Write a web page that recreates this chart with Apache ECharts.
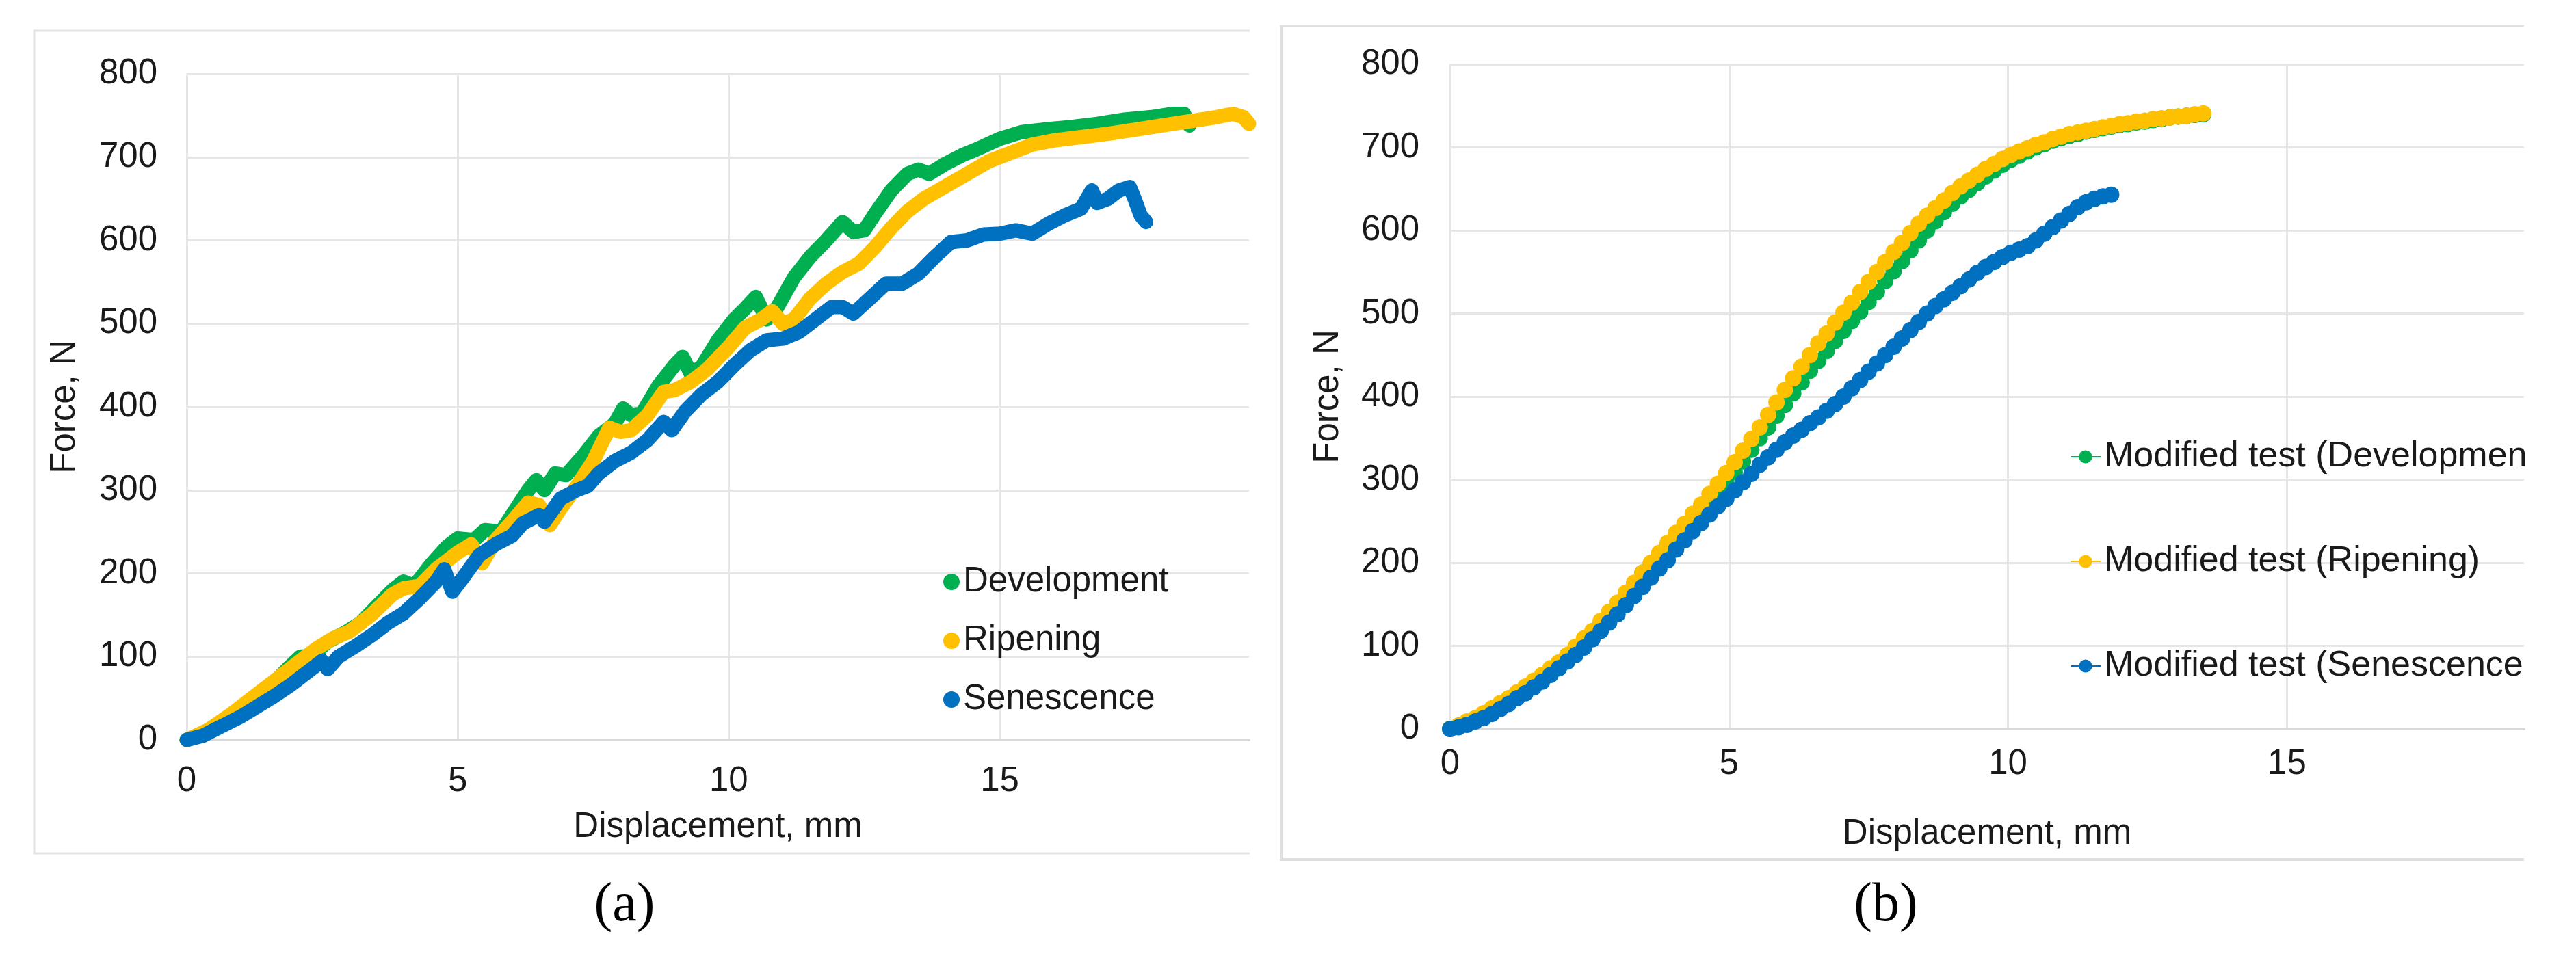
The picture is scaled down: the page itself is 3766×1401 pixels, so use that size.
<!DOCTYPE html>
<html>
<head>
<meta charset="utf-8">
<script src="https://cdn.jsdelivr.net/npm/echarts@6/dist/echarts.min.js"></script>
<style>html,body{margin:0;padding:0;background:#fff}#c{width:3766px;height:1401px}</style>
</head>
<body>
<div id="c"></div>
<script>
// ---------- Panel (a): displacement (mm) / force (N) ----------
const devA_x = [0,0.3,0.6,1.0,1.3,1.6,1.9,2.1,2.3,2.6,2.9,3.2,3.5,3.8,4.0,4.2,4.5,4.8,5.0,5.3,5.5,5.8,6.0,6.3,6.45,6.6,6.8,7.0,7.3,7.6,7.9,8.05,8.2,8.4,8.7,9.0,9.15,9.3,9.5,9.8,10.1,10.3,10.5,10.7,10.9,11.2,11.5,11.8,12.1,12.3,12.5,12.7,13.0,13.3,13.5,13.7,14.0,14.3,14.6,15.0,15.4,15.8,16.3,16.8,17.3,17.8,18.2,18.4,18.5];
const devA_y = [0,8,20,38,52,68,88,100,100,118,128,140,160,180,190,185,210,232,242,240,252,250,270,300,312,300,320,318,340,365,380,398,390,392,425,450,460,440,448,480,505,518,532,505,520,555,580,600,622,610,612,632,660,680,685,680,692,702,710,722,730,733,736,740,745,748,752,752,738];

const ripA_x = [0,0.4,0.8,1.2,1.6,2.0,2.4,2.7,3.0,3.4,3.8,4.0,4.3,4.6,5.0,5.25,5.45,5.7,6.0,6.3,6.5,6.7,6.9,7.2,7.5,7.8,8.0,8.2,8.5,8.8,9.0,9.3,9.6,10.0,10.3,10.6,10.8,11.0,11.2,11.5,11.8,12.1,12.4,12.7,13.0,13.3,13.6,14.0,14.4,14.8,15.2,15.6,16.0,16.5,17.0,17.5,18.0,18.5,19.0,19.3,19.5,19.6];
const ripA_y = [0,12,30,50,70,90,110,122,130,150,175,182,185,205,225,235,212,240,262,285,282,258,278,305,335,375,370,372,390,418,420,430,445,472,495,505,515,500,505,530,548,562,572,592,615,635,650,665,680,695,705,715,720,724,728,733,738,743,748,752,748,740];

const senA_x = [0,0.3,0.6,1.0,1.3,1.6,1.9,2.2,2.5,2.6,2.8,3.1,3.4,3.7,4.0,4.3,4.6,4.75,4.9,5.1,5.4,5.7,6.0,6.2,6.5,6.6,6.9,7.2,7.4,7.6,7.9,8.2,8.5,8.8,8.95,9.2,9.5,9.8,10.1,10.4,10.7,11.0,11.3,11.6,11.9,12.1,12.3,12.6,12.9,13.2,13.5,13.8,14.1,14.4,14.7,15.0,15.3,15.6,15.9,16.2,16.5,16.7,16.8,17.0,17.2,17.4,17.5,17.6,17.7];
const senA_y = [0,5,15,28,40,52,65,80,95,85,100,112,125,140,152,170,190,205,178,195,222,235,245,260,270,262,290,300,305,320,335,345,360,382,372,395,415,430,450,468,480,482,490,505,520,520,512,530,548,548,560,580,598,600,607,608,612,608,620,630,638,660,645,650,660,664,648,630,622];

// ---------- Panel (b): modified test ----------
const dispB = [0,0.15,0.3,0.45,0.6,0.75,0.9,1.05,1.2,1.35,
  1.5,1.65,1.8,1.95,2.1,2.25,2.4,2.55,2.7,2.85,
  3.0,3.15,3.3,3.45,3.6,3.75,3.9,4.05,4.2,4.35,
  4.5,4.65,4.8,4.95,5.1,5.25,5.4,5.55,5.7,5.85,
  6.0,6.15,6.3,6.45,6.6,6.75,6.9,7.05,7.2,7.35,
  7.5,7.65,7.8,7.95,8.1,8.25,8.4,8.55,8.7,8.85,
  9.0,9.15,9.3,9.45,9.6,9.75,9.9,10.05,10.2,10.35,
  10.5,10.65,10.8,10.95,11.1,11.25,11.4,11.55,11.7,11.85,
  12.0,12.15,12.3,12.45,12.6,12.75,12.9,13.05,13.2,13.35,
  13.5];
const devB = [0,4,8,12,18,24,30,36,43,50,
  57,64,72,79,88,97,106,116,127,139,
  150,163,175,188,199,210,221,231,242,252,
  262,273,285,296,309,322,336,350,363,377,
  390,404,417,431,443,455,467,479,491,502,
  514,526,539,551,563,576,588,600,611,622,
  632,641,649,657,665,672,679,685,690,695,
  700,704,708,711,714,716,719,721,723,725,
  727,728,730,731,733,734,736,737,738,739,
  740];
const ripB = [0,4,9,13,19,25,31,37,44,51,
  58,65,73,80,89,99,109,118,130,141,
  152,164,176,188,200,212,224,236,247,259,
  270,283,295,308,321,335,349,363,378,393,
  408,422,436,450,464,476,489,501,513,526,
  538,550,562,574,585,597,608,618,627,636,
  645,653,660,667,674,680,686,691,695,699,
  703,706,710,713,716,718,720,722,724,726,
  728,729,731,732,734,735,736,737,738,740,
  741];
const senB = [0,2,5,9,13,18,24,30,37,43,
  50,57,65,73,81,89,98,108,118,128,
  138,149,160,171,182,193,203,216,227,238,
  248,258,268,277,287,297,307,318,327,336,
  345,353,360,368,375,383,391,400,410,420,
  430,440,450,460,470,480,490,500,509,517,
  525,533,541,549,556,562,568,573,577,581,
  588,596,604,612,620,628,634,638,641,643];

const namesA = ['Development','Ripening','Senescence'];
const namesB = ['Modified test (Development)','Modified test (Ripening)','Modified test (Senescence)'];
const colors = ['#00B050','#FFC000','#0070C0'];
const yTicks = {min:0, max:800, interval:100};
const xTicks = {min:0, interval:5};

const FONT = "'Liberation Sans', Arial, sans-serif";
const TXT = '#1a1a1a';
const zip = (xs, ys) => ys.map((y, i) => [xs[i], y]);

function xAxisCfg(idx, max, lblMargin, nameGap){
  return {
    type:'value', gridIndex:idx, min:xTicks.min, max:max, interval:xTicks.interval,
    name:'Displacement, mm', nameLocation:'middle', nameGap:nameGap,
    nameTextStyle:{fontSize:51, color:TXT, fontFamily:FONT},
    axisLine:{show:true, onZero:false, lineStyle:{color:'#d9d9d9', width:4}},
    axisTick:{show:false},
    axisLabel:{fontSize:51, color:TXT, fontFamily:FONT, margin:lblMargin, showMaxLabel:false,
      formatter:v => (v % 5 === 0 ? String(v) : '')},
    splitLine:{show:true, showMaxLine:false, lineStyle:{color:'#e6e6e6', width:3}}
  };
}
function yAxisCfg(idx, nameGap, lblMargin){
  return {
    type:'value', gridIndex:idx, min:yTicks.min, max:yTicks.max, interval:yTicks.interval,
    name:'Force, N', nameLocation:'middle', nameRotate:90, nameGap:nameGap,
    nameTextStyle:{fontSize:51, color:TXT, fontFamily:FONT},
    axisLine:{show:false}, axisTick:{show:false},
    axisLabel:{fontSize:51, color:TXT, fontFamily:FONT, margin:lblMargin},
    splitLine:{show:true, lineStyle:{color:'#e6e6e6', width:3}}
  };
}

const seriesA = [[devA_x,devA_y],[ripA_x,ripA_y],[senA_x,senA_y]].map((d,i)=>({
  type:'line', name:namesA[i], xAxisIndex:0, yAxisIndex:0,
  data:zip(d[0], d[1]), showSymbol:false, symbol:'circle', clip:true,
  lineStyle:{width:21, color:colors[i], cap:'round', join:'round'},
  itemStyle:{color:colors[i]}, emphasis:{disabled:true}, z:2+i
}));
const seriesB = [devB, ripB, senB].map((ys,i)=>({
  type:'line', name:namesB[i], xAxisIndex:1, yAxisIndex:1,
  data:zip(dispB, ys), symbol:'circle', symbolSize:24, showSymbol:true, showAllSymbol:true,
  lineStyle:{width:3, color:colors[i]},
  itemStyle:{color:colors[i], borderWidth:0}, emphasis:{disabled:true}, z:2+i
}));

const option = {
  animation:false,
  backgroundColor:'#ffffff',
  textStyle:{fontFamily:FONT},
  grid:[
    {left:273, top:108, width:1553, height:974, outerBoundsMode:'none', containLabel:false},
    {left:2120, top:94, width:1570, height:972, outerBoundsMode:'none', containLabel:false}
  ],
  xAxis:[ xAxisCfg(0, 19.6, 35, 102), xAxisCfg(1, 19.25, 26, 128) ],
  yAxis:[ yAxisCfg(0, 153, 43), yAxisCfg(1, 153, 45) ],
  legend:[
    {data:namesA, orient:'vertical', left:1374, top:816, itemWidth:24, itemHeight:24, itemGap:26,
     icon:'circle', selectedMode:false,
     textStyle:{fontSize:51, lineHeight:60, color:TXT, fontFamily:FONT}},
    {data:namesB, orient:'vertical', left:3021, top:633, itemWidth:44, itemHeight:24, itemGap:93,
     selectedMode:false,
     textStyle:{fontSize:52, lineHeight:60, color:TXT, fontFamily:FONT, width:626, overflow:'truncate', ellipsis:''}}
  ],
  graphic:[
    {type:'polyline', z:-1, shape:{points:[[1827,45],[50,45],[50,1248],[1827,1248]]},
     style:{stroke:'#e3e3e3', lineWidth:3, fill:null}},
    {type:'polyline', z:-1, shape:{points:[[3690,38],[1873,38],[1873,1257],[3690,1257]]},
     style:{stroke:'#e0e0e0', lineWidth:4, fill:null}},
    {type:'text', x:913, y:1325, style:{text:'(a)', fontSize:80, fontFamily:"'Liberation Serif', 'Times New Roman', serif", fill:'#000', align:'center', verticalAlign:'middle'}},
    {type:'text', x:2757, y:1325, style:{text:'(b)', fontSize:80, fontFamily:"'Liberation Serif', 'Times New Roman', serif", fill:'#000', align:'center', verticalAlign:'middle'}}
  ],
  series:[...seriesA, ...seriesB]
};

const chart = echarts.init(document.getElementById('c'), null, {renderer:'canvas', width:3766, height:1401});
chart.setOption(option);
</script>
</body>
</html>
